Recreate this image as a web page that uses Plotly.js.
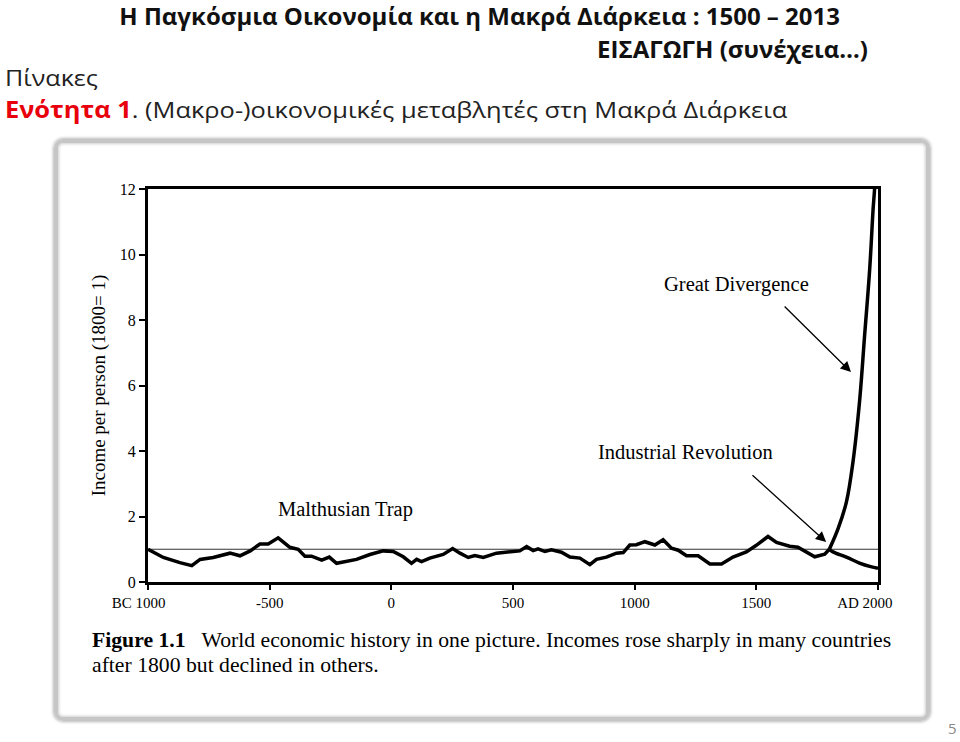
<!DOCTYPE html>
<html>
<head>
<meta charset="utf-8">
<script src="https://cdn.plot.ly/plotly-3.0.1.min.js"></script>
<style>
  body { margin: 0; background: #fff; }
  #slide { position: relative; width: 960px; height: 742px; overflow: hidden; background: #fff; }
  #frame {
    position: absolute; left: 54px; top: 139px; width: 868px; height: 574px;
    border: 4px solid #c6c6c6; border-radius: 9px;
    box-shadow: 0 0 3px 1px #b8b8b8, inset 0 0 3px 1px #cfcfcf;
  }
  #chart { position: absolute; left: 0; top: 0; width: 960px; height: 742px; }
  .hd { position: absolute; white-space: nowrap; font-family: "Open Sans", Lato, sans-serif; color: #111; line-height: 1; }
  #t1 { right: 120px; top: 4px; font-size: 24px; font-weight: bold; }
  #t2 { right: 92px; top: 37px; font-size: 24px; font-weight: bold; }
  #t3 { left: 5px; top: 67px; font-size: 22.5px; color: #222; transform: scaleX(1.115); transform-origin: left top; }
  #t4 { left: 5px; top: 98.5px; font-size: 22.5px; color: #222; transform: scaleX(1.13); transform-origin: left top; }
  #t4 b { color: #e8000b; }
  #pg { position: absolute; left: 948px; top: 721px; line-height: 1; font-family: "Open Sans", sans-serif; font-size: 15px; color: #8a8a8a; }
</style>
</head>
<body>
<div id="slide">
  <div id="frame"></div>
  <div id="chart"></div>
  <div class="hd" id="t1">Η Παγκόσμια Οικονομία και η Μακρά Διάρκεια : 1500 – 2013</div>
  <div class="hd" id="t2">ΕΙΣΑΓΩΓΗ (συνέχεια…)</div>
  <div class="hd" id="t3">Πίνακες</div>
  <div class="hd" id="t4"><b>Ενότητα 1</b>. (Μακρο-)οικονομικές μεταβλητές στη Μακρά Διάρκεια</div>
  <div id="pg">5</div>
</div>
<script>
// income per person, 1800 = 1
var trapYears = [-1000, -937, -869, -845, -820, -786, -732, -663, -622, -580, -540, -506, -465, -417, -383,
  -355, -328, -286, -255, -225, -143, -88, -33, 8, 49, 83, 104, 124, 158, 213, 252, 282, 316, 343, 378,
  432, 480, 528, 556, 583, 603, 631, 658, 699, 734, 775, 816, 843, 884, 925, 953, 980, 1007, 1042, 1083,
  1117, 1151, 1179, 1213, 1261, 1309, 1357, 1404, 1459, 1500, 1548, 1583, 1637, 1671, 1706, 1740, 1781, 1800];
var trapIncome = [1.0, 0.75, 0.59, 0.55, 0.50, 0.69, 0.75, 0.88, 0.80, 0.95, 1.16, 1.16, 1.35, 1.06, 1.0,
  0.79, 0.79, 0.67, 0.76, 0.57, 0.69, 0.84, 0.95, 0.93, 0.77, 0.57, 0.69, 0.62, 0.73, 0.84, 1.02, 0.88, 0.75, 0.81, 0.75,
  0.88, 0.92, 0.95, 1.08, 0.96, 1.01, 0.93, 0.98, 0.91, 0.76, 0.73, 0.53, 0.69, 0.76, 0.88, 0.90, 1.13, 1.14, 1.23, 1.13,
  1.29, 1.03, 0.97, 0.80, 0.80, 0.55, 0.55, 0.76, 0.92, 1.12, 1.39, 1.21, 1.09, 1.06, 0.90, 0.77, 0.85, 1.0];

var riseYears = [1800, 1836, 1870, 1897, 1924, 1945, 1966, 1980, 1986, 1992];
var riseIncome = [1.0, 1.63, 2.44, 3.66, 5.5, 7.53, 9.57, 11.4, 12.0, 12.8];

var fallYears = [1800, 1815, 1870, 1924, 1970, 2000];
var fallIncome = [1.0, 0.92, 0.76, 0.58, 0.47, 0.42];

var refYears = [-1000, 2000];
var refIncome = [1, 1];

var tickYears = [-1000, -500, 0, 500, 1000, 1500, 2000];
// the end labels sit a little inside their ticks in the original, hence the padding
var tickLabels = ['BC 1000\u00a0\u00a0\u00a0\u00a0\u00a0', '-500', '0', '500', '1000', '1500', 'AD 2000\u00a0\u00a0\u00a0\u00a0\u00a0\u00a0\u00a0'];

const serif = 'Liberation Serif, Times New Roman, serif';

const refLine = {
    x: refYears, y: refIncome, mode: 'lines', type: 'scatter',
    line: { color: '#333', width: 1.1 }, hoverinfo: 'skip'
};
const trap = {
    x: trapYears, y: trapIncome, mode: 'lines', type: 'scatter',
    line: { color: 'black', width: 3.5 }
};
const rise = {
    x: riseYears, y: riseIncome, mode: 'lines', type: 'scatter',
    line: { color: 'black', width: 3.5, shape: 'spline' }
};
const fall = {
    x: fallYears, y: fallIncome, mode: 'lines', type: 'scatter',
    line: { color: 'black', width: 3.5, shape: 'spline' }
};

const layout = {
    width: 960, height: 742,
    margin: { l: 148, r: 82, t: 189, b: 160 },
    paper_bgcolor: 'rgba(0,0,0,0)',
    plot_bgcolor: 'rgba(0,0,0,0)',
    showlegend: false,
    font: { family: serif, color: 'black' },
    xaxis: {
        range: [-1000, 2000], tickvals: tickYears, ticktext: tickLabels,
        ticks: 'outside', ticklen: 5, tickwidth: 2, tickcolor: 'black',
        showline: true, linewidth: 3, linecolor: 'black', mirror: true,
        showgrid: false, zeroline: false,
        tickfont: { family: serif, size: 15, color: 'black' }
    },
    yaxis: {
        range: [0, 12], dtick: 2,
        ticks: 'outside', ticklen: 6, tickwidth: 2, tickcolor: 'black',
        showline: true, linewidth: 3, linecolor: 'black', mirror: true,
        showgrid: false, zeroline: false,
        tickfont: { family: serif, size: 16, color: 'black' },
        title: { text: 'Income per person (1800= 1)', font: { family: serif, size: 19, color: 'black' }, standoff: 10 }
    },
    annotations: [
        { x: -190, y: 2.2, xref: 'x', yref: 'y', text: 'Malthusian Trap', showarrow: false,
          font: { family: serif, size: 20.5, color: 'black' } },
        { x: 1417, y: 9.07, xref: 'x', yref: 'y', text: 'Great Divergence', showarrow: false,
          font: { family: serif, size: 20.5, color: 'black' } },
        { x: 1207, y: 3.97, xref: 'x', yref: 'y', text: 'Industrial Revolution', showarrow: false,
          font: { family: serif, size: 20.5, color: 'black' } },
        { x: 1889, y: 6.41, ax: 1610, ay: 8.46, xref: 'x', yref: 'y', axref: 'x', ayref: 'y',
          text: '', showarrow: true, arrowhead: 2, arrowsize: 1.6, arrowwidth: 1.3, arrowcolor: 'black' },
        { x: 1787, y: 1.22, ax: 1478, ay: 3.30, xref: 'x', yref: 'y', axref: 'x', ayref: 'y',
          text: '', showarrow: true, arrowhead: 2, arrowsize: 1.6, arrowwidth: 1.3, arrowcolor: 'black' },
        { x: -0.0795, y: -0.1476, xref: 'paper', yref: 'paper', xanchor: 'left', yanchor: 'middle',
          showarrow: false, font: { family: serif, size: 21.7, color: 'black' },
          text: '<b>Figure 1.1</b>   World economic history in one picture. Incomes rose sharply in many countries' },
        { x: -0.0795, y: -0.2112, xref: 'paper', yref: 'paper', xanchor: 'left', yanchor: 'middle',
          showarrow: false, font: { family: serif, size: 21.7, color: 'black' },
          text: 'after 1800 but declined in others.' }
    ]
};

Plotly.newPlot('chart', [refLine, trap, rise, fall], layout, { displayModeBar: false, staticPlot: true });
</script>
</body>
</html>
